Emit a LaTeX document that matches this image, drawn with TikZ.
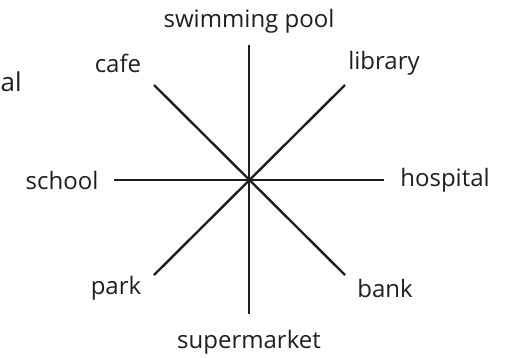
\documentclass[tikz,border=0pt]{standalone}
\usepackage{fontspec}
\setmainfont{Open Sans}
\begin{document}
\begin{tikzpicture}[x=1pt,y=-1pt,
  lbl/.style={font=\fontsize{24}{28}\selectfont, text=black!88, inner sep=0pt},
  spoke/.style={line width=2.4pt, black!88}]
\useasboundingbox (0,0) rectangle (509,357);
\coordinate (c) at (249,180);
\coordinate (n) at (249,45);
\coordinate (s) at (249,314);
\coordinate (w) at (114,180);
\coordinate (e) at (384,180);
\coordinate (nw) at (154,85);
\coordinate (ne) at (345,85);
\coordinate (sw) at (154,275);
\coordinate (se) at (345,275);
\draw[spoke] (n) -- (s);
\draw[spoke] (w) -- (e);
\draw[spoke] (nw) -- (se);
\draw[spoke] (ne) -- (sw);
\node[lbl] (swim) at (249,21) {swimming pool};
\node[lbl] (cafe) at (118,63) {cafe};
\node[lbl] (lib) at (384,63) {library};
\node[lbl] (school) at (62,180) {school};
\node[lbl] (hosp) at (445,180) {hospital};
\node[lbl] (park) at (116,288) {park};
\node[lbl] (bank) at (385,288) {bank};
\node[lbl] (super) at (249,342) {supermarket};
\node[lbl, font=\fontsize{26}{30}\selectfont, anchor=base west] (al) at (0.5,91) {al};
\end{tikzpicture}
\end{document}
